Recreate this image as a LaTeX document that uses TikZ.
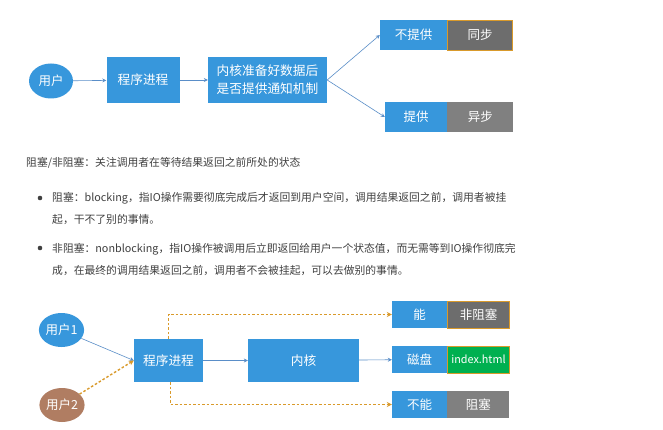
\documentclass[tikz,border=0pt]{standalone}
\usepackage{fontspec}
\setmainfont{Noto Sans CJK SC}
\usetikzlibrary{positioning, arrows.meta, shapes.geometric}

\definecolor{boxblue}{HTML}{3797DC}
\definecolor{lineblue}{HTML}{5A8EC8}
\definecolor{darkgrey}{HTML}{6D6D6D}
\definecolor{midgrey}{HTML}{808080}
\definecolor{dotorange}{HTML}{D99A2B}
\definecolor{htmlgreen}{HTML}{00B050}
\definecolor{userbrown}{HTML}{B07D62}
\definecolor{bodytext}{HTML}{404040}

\tikzset{
  main node/.style={rectangle,fill=boxblue,text=white,inner sep=0pt,font=\fontsize{12.7}{18}\selectfont},
  user node/.style={ellipse,fill=boxblue,text=white,inner sep=0pt,font=\fontsize{12.5}{15}\selectfont},
  tag node/.style={main node,minimum height=27pt,font=\fontsize{12.5}{15}\selectfont},
  result node/.style={tag node,fill=darkgrey},
  flow/.style={draw=lineblue,line width=0.6pt,-{Stealth[length=4pt,width=4pt]}},
  dot flow/.style={draw=dotorange,line width=1.4pt,dash pattern=on 2.5pt off 2pt,-{Stealth[length=5pt,width=5pt]}},
  line text/.style={anchor=base west,inner sep=0pt,text=bodytext,font=\fontsize{10.8}{13}\selectfont}
}

\begin{document}
\begin{tikzpicture}[x=1pt,y=-1pt]
                \useasboundingbox[fill=white] (0,0) rectangle (663,430);
                % synchronous / asynchronous
                \node[user node, minimum width=44pt, minimum height=35pt] at (51,81) (user) {用户};
                \node[main node, minimum width=73pt, minimum height=46pt] at (143,80) (proc) {程序进程};
                \node[main node, minimum width=119pt, minimum height=46pt, align=center] at (267.5,80) (notify) {内核准备好数据后\\是否提供通知机制};
                \node[tag node, minimum width=67pt, minimum height=30pt] at (413.5,35) (nosup) {不提供};
                \node[result node, minimum width=65pt, minimum height=30pt, draw=dotorange, line width=0.6pt, right=0pt of nosup] (sync) {同步};
                \node[tag node, minimum width=62pt, minimum height=30pt] at (416,117) (sup) {提供};
                \node[result node, fill=midgrey, minimum width=66pt, minimum height=30pt, right=0pt of sup] (async) {异步};
                \draw[flow] (user) -- (proc);
                \draw[flow] (proc) -- (notify);
                \draw[flow] (notify.east) -- (nosup.west);
                \draw[flow] (notify.east) -- (sup.west);

                % blocking / non-blocking text
                \node[line text] at (26,167) (head) {阻塞/非阻塞：关注调用者在等待结果返回之前所处的状态};
                \fill[bodytext] (40,198) circle (2.3pt);
                \node[line text] at (52,202) (blk1) {阻塞：blocking，指IO操作需要彻底完成后才返回到用户空间，调用结果返回之前，调用者被挂};
                \node[line text] at (52,224) (blk2) {起，干不了别的事情。};
                \fill[bodytext] (40,248) circle (2.3pt);
                \node[line text] at (52,252) (nblk1) {非阻塞：nonblocking，指IO操作被调用后立即返回给用户一个状态值，而无需等到IO操作彻底完};
                \node[line text] at (52,274) (nblk2) {成，在最终的调用结果返回之前，调用者不会被挂起，可以去做别的事情。};

                % blocking / non-blocking diagram
                \node[user node, minimum width=41pt, minimum height=34pt] at (61.5,330) (user1) {用户1};
                \node[user node, fill=userbrown, minimum width=40pt, minimum height=34pt] at (62,405) (user2) {用户2};
                \node[main node, minimum width=69pt, minimum height=43pt] at (168.5,360.5) (proc2) {程序进程};
                \node[main node, minimum width=111pt, minimum height=43pt] at (303.5,360.5) (kernel) {内核};
                \node[tag node, minimum width=55pt] at (419.5,314.5) (can) {能};
                \node[result node, minimum width=62pt, draw=dotorange, line width=0.6pt, right=0pt of can] (nonblock) {非阻塞};
                \node[tag node, minimum width=55pt] at (419.5,359.5) (disk) {磁盘};
                \node[result node, fill=htmlgreen, minimum width=62pt, draw=dotorange, line width=0.6pt, font=\fontsize{10.8}{13}\selectfont, right=0pt of disk] (index) {index.html};
                \node[tag node, minimum width=55pt] at (419.5,404.5) (cannot) {不能};
                \node[result node, fill=midgrey, minimum width=62pt, right=0pt of cannot] (block) {阻塞};
                \draw[flow] (user1) -- (proc2.west);
                \draw[dot flow] (user2) -- (proc2.west);
                \draw[flow] (proc2) -- (kernel);
                \draw[flow] (kernel) -- (disk);
                \draw[dot flow] (proc2.north) |- (can.west);
                \draw[dot flow] ([xshift=2pt]proc2.south) |- (cannot.west);
            \end{tikzpicture}
\end{document}
